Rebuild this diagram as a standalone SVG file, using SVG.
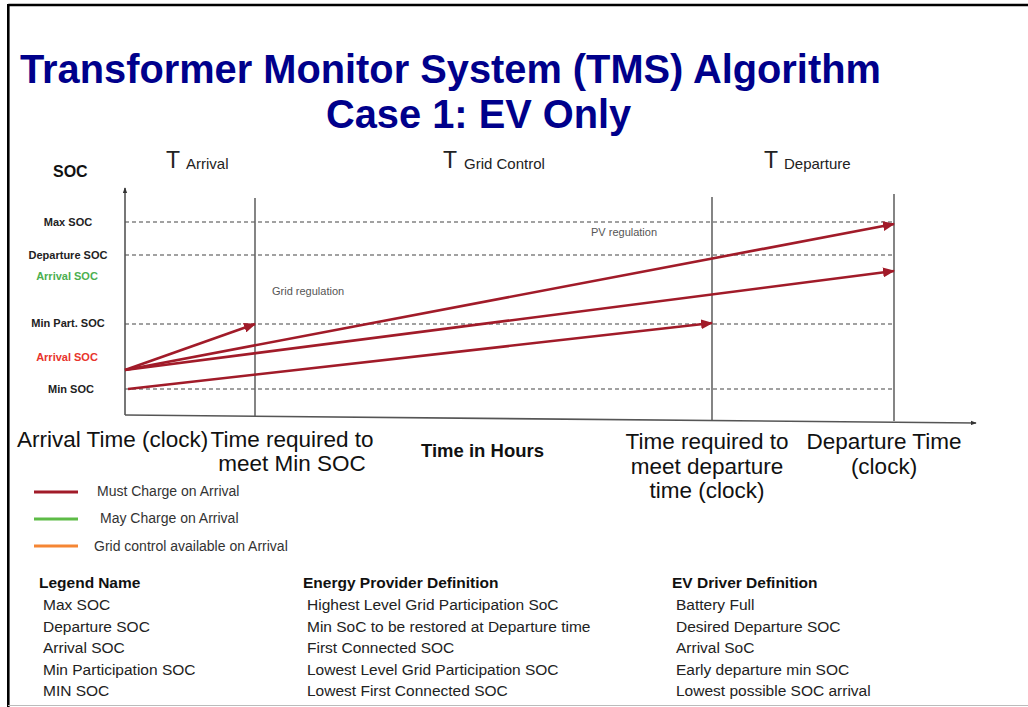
<svg xmlns="http://www.w3.org/2000/svg" width="1028" height="707" viewBox="0 0 1028 707">
<style>
  text { font-family: "Liberation Sans", Arial, sans-serif; }
  .title { font-size: 39.8px; font-weight: bold; fill: #00008B; }
  .tbig { font-size: 23px; fill: #222; }
  .tsub { font-size: 15px; fill: #222; }
  .soc { font-size: 11px; font-weight: bold; fill: #222; text-anchor: middle; }
  .note { font-size: 11px; fill: #555; }
  .axislbl { font-size: 22.5px; fill: #111; }
  .mid { text-anchor: middle; }
  .leg { font-size: 14px; fill: #333; }
  .tbl { font-size: 15.5px; fill: #222; }
  .tblh { font-size: 15.5px; font-weight: bold; fill: #111; }
  .dash { stroke: #444; stroke-width: 1.2; stroke-dasharray: 4 3; fill: none; }
  .vline { stroke: #666; stroke-width: 1.6; fill: none; }
  .axis { stroke: #555; stroke-width: 1.6; fill: none; }
  .charge { stroke: #A11B29; stroke-width: 2.6; fill: none; }
</style>
<defs>
  <marker id="ah" viewBox="0 0 12 10" refX="11" refY="5" markerWidth="12" markerHeight="10" markerUnits="userSpaceOnUse" orient="auto">
    <path d="M0,0 L12,5 L0,10 z" fill="#A11B29"/>
  </marker>
  <marker id="axh" viewBox="0 0 8 6" refX="7" refY="3" markerWidth="6" markerHeight="5" markerUnits="userSpaceOnUse" orient="auto">
    <path d="M0,0 L8,3 L0,6 z" fill="#333"/>
  </marker>
</defs>
<rect x="0" y="0" width="1028" height="707" fill="#ffffff"/>
<g id="frame">
  <line x1="8.3" y1="5" x2="1028" y2="5" stroke="#000" stroke-width="2.6"/>
  <line x1="8.3" y1="4" x2="8.3" y2="707" stroke="#000" stroke-width="2.6"/>
  <line x1="8" y1="705.5" x2="1028" y2="705.5" stroke="#bbb" stroke-width="1.2"/>
</g>
<g id="title">
  <text class="title" x="20" y="83">Transformer Monitor System (TMS) Algorithm</text>
  <text class="title" x="326" y="128">Case 1: EV Only</text>
</g>
<g id="phase-labels">
  <text class="tbig" x="166" y="168">T</text><text class="tsub" x="186" y="168.5">Arrival</text>
  <text class="tbig" x="443" y="168">T</text><text class="tsub" x="464" y="168.5">Grid Control</text>
  <text class="tbig" x="764" y="168">T</text><text class="tsub" x="784" y="168.5">Departure</text>
</g>
<g id="grid">
  <line class="dash" x1="125" y1="222" x2="895" y2="222"/>
  <line class="dash" x1="125" y1="255" x2="895" y2="255"/>
  <line class="dash" x1="125" y1="324" x2="895" y2="324"/>
  <line class="dash" x1="125" y1="389" x2="895" y2="389"/>
  <line class="vline" x1="255" y1="198" x2="255" y2="416"/>
  <line class="vline" x1="712" y1="197" x2="712" y2="420"/>
  <line class="vline" x1="894" y1="194" x2="894" y2="421"/>
</g>
<g id="axes">
  <line class="axis" x1="125" y1="415" x2="125" y2="188" marker-end="url(#axh)"/>
  <line class="axis" x1="125" y1="415" x2="976" y2="423" marker-end="url(#axh)"/>
</g>
<g id="soc-labels">
  <text x="53" y="177" style="font-size:16px;font-weight:bold;fill:#111">SOC</text>
  <text class="soc" x="68" y="226">Max SOC</text>
  <text class="soc" x="68" y="259">Departure SOC</text>
  <text class="soc" x="67" y="280" style="fill:#4CAF50">Arrival SOC</text>
  <text class="soc" x="68" y="327">Min Part. SOC</text>
  <text class="soc" x="67" y="361" style="fill:#E8342C">Arrival SOC</text>
  <text class="soc" x="71" y="393">Min SOC</text>
</g>
<g id="region-notes">
  <text class="note" x="272" y="295">Grid regulation</text>
  <text class="note" x="591" y="236">PV regulation</text>
</g>
<g id="connectors">
  <line class="charge" x1="125" y1="370" x2="255" y2="324" marker-end="url(#ah)"/>
  <line class="charge" x1="125" y1="370" x2="894" y2="224" marker-end="url(#ah)"/>
  <line class="charge" x1="125" y1="370" x2="894" y2="271" marker-end="url(#ah)"/>
  <line class="charge" x1="128" y1="389" x2="712" y2="323" marker-end="url(#ah)"/>
</g>
<g id="time-labels">
  <text class="axislbl" x="17" y="447">Arrival Time (clock)</text>
  <text class="axislbl mid" x="292" y="447">Time required to</text>
  <text class="axislbl mid" x="292" y="471">meet Min SOC</text>
  <text x="421" y="457" style="font-size:18.5px;font-weight:bold;fill:#111">Time in Hours</text>
  <text class="axislbl mid" x="707" y="449">Time required to</text>
  <text class="axislbl mid" x="707" y="474">meet departure</text>
  <text class="axislbl mid" x="707" y="498">time (clock)</text>
  <text class="axislbl mid" x="884" y="449">Departure Time</text>
  <text class="axislbl mid" x="884" y="474">(clock)</text>
</g>
<g id="legend">
  <line x1="34" y1="492" x2="78" y2="492" stroke="#A11B29" stroke-width="3"/>
  <text class="leg" x="97" y="496">Must Charge on Arrival</text>
  <line x1="34" y1="519" x2="78" y2="519" stroke="#5DBB46" stroke-width="3"/>
  <text class="leg" x="100" y="523">May Charge on Arrival</text>
  <line x1="34" y1="546" x2="78" y2="546" stroke="#F58634" stroke-width="3"/>
  <text class="leg" x="94" y="551">Grid control available on Arrival</text>
</g>
<g id="definitions">
  <text class="tblh" x="39" y="588">Legend<tspan dx="4">Name</tspan></text>
  <text class="tbl" x="43" y="610">Max SOC</text>
  <text class="tbl" x="43" y="632">Departure SOC</text>
  <text class="tbl" x="43" y="653">Arrival SOC</text>
  <text class="tbl" x="43" y="675">Min Participation SOC</text>
  <text class="tbl" x="43" y="696">MIN SOC</text>
  <text class="tblh" x="303" y="588">Energy Provider Definition</text>
  <text class="tbl" x="307" y="610">Highest Level Grid Participation SoC</text>
  <text class="tbl" x="307" y="632">Min SoC to be restored at Departure time</text>
  <text class="tbl" x="307" y="653">First Connected SOC</text>
  <text class="tbl" x="307" y="675">Lowest Level Grid Participation SOC</text>
  <text class="tbl" x="307" y="696">Lowest First Connected SOC</text>
  <text class="tblh" x="672" y="588">EV Driver Definition</text>
  <text class="tbl" x="676" y="610">Battery Full</text>
  <text class="tbl" x="676" y="632">Desired Departure SOC</text>
  <text class="tbl" x="676" y="653">Arrival SoC</text>
  <text class="tbl" x="676" y="675">Early departure min SOC</text>
  <text class="tbl" x="676" y="696">Lowest possible SOC arrival</text>
</g>
</svg>
